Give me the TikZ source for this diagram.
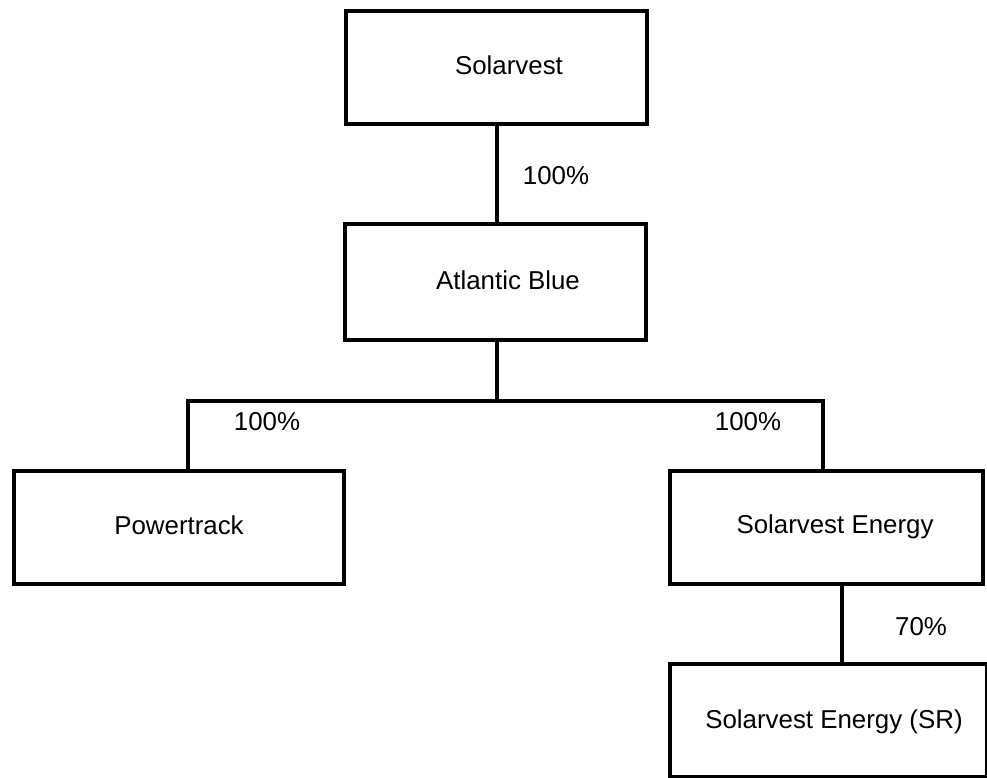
\documentclass[tikz,border=0pt]{standalone}
\usepackage{fontspec}
\setmainfont{Liberation Sans}
\begin{document}
\begin{tikzpicture}[x=0.75pt,y=-0.75pt,
  box/.style={draw, line width=3pt, anchor=north west, inner sep=0pt},
  txt/.style={font=\fontsize{19.4}{23}\selectfont, inner sep=0pt, anchor=center},
  conn/.style={line width=3.7pt, line join=miter, line cap=rect}]
\useasboundingbox (0,0) rectangle (987,777);
\fill[white] (0,0) rectangle (987,777);
% boxes
\node[box, minimum width=225.75pt, minimum height=84.75pt] (sol) at (344,9) {};
\node[box, minimum width=225.75pt, minimum height=87pt] (ab) at (343,222) {};
\node[box, minimum width=247.5pt, minimum height=84.75pt] (pt) at (12,469) {};
\node[box, minimum width=234.75pt, minimum height=84.75pt] (se) at (668,469) {};
\node[box, minimum width=237.75pt, minimum height=84.75pt] (sr) at (668,662) {};
% texts
\node[txt] (tsol) at (509,65) {Solarvest};
\node[txt] (tab) at (508,280) {Atlantic Blue};
\node[txt] (tpt) at (179,525) {Powertrack};
\node[txt] (tse) at (835,527) {Solarvest Energy};
\node[txt] (tsr) at (834,722) {Solarvest Energy (SR)};
% connector coordinates
\coordinate (j1) at (497,401);
\coordinate (lt) at (188,401);
\coordinate (rt) at (823,401);
\coordinate (v2) at (842,620);
% connectors
\draw[conn, line cap=butt] (sol.south -| j1) -- (ab.north -| j1);
\draw[conn, line cap=butt] (ab.south -| j1) -- (j1);
\draw[conn, line cap=butt] (pt.north -| lt) -- (lt) -- (rt) -- (se.north -| rt);
\draw[conn, line cap=butt] (se.south -| v2) -- (sr.north -| v2);
% labels
\node[txt] (l1) at (556,176) {100\%};
\node[txt] (l2) at (267,422) {100\%};
\node[txt] (l3) at (748,422) {100\%};
\node[txt] (l4) at (921,627) {70\%};
\end{tikzpicture}
\end{document}
